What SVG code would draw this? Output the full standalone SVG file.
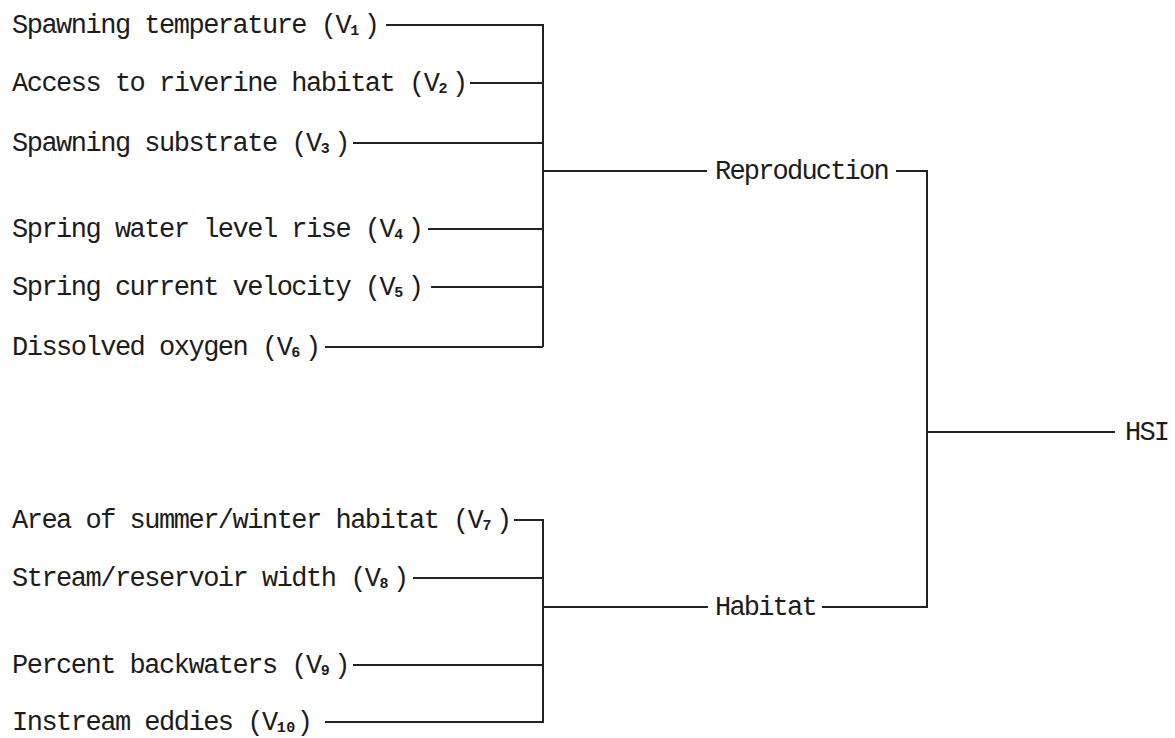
<svg xmlns="http://www.w3.org/2000/svg" width="1175" height="738" viewBox="0 0 1175 738">
<style>
  text { font-family: "Liberation Mono", "DejaVu Sans Mono", monospace; font-size: 27px; fill: #1c1c1c; }
  .in { letter-spacing: -1.5px; }
  .agg { letter-spacing: -1.8px; }
  .sub { font-size: 15px; letter-spacing: 0.5px; font-weight: bold; }
  .conn path { fill: none; stroke: #222; stroke-width: 2; }
</style>
<rect width="1175" height="738" fill="#ffffff"/>
<g class="conn" id="connectors">
  <path d="M386 25H543V347M470 83H543M353 143H543M428 229H543M431 287H543M325 347H543"/>
  <path d="M543 171H707M896 171H927V607H822M708 607H543"/>
  <path d="M514 520H543V722H325M413 578H543M353 665H543"/>
  <path d="M927 432H1115"/>
</g>
<g id="v1"><text class="in" x="12" y="33">Spawning temperature (V<tspan class="sub" dy="2">1</tspan><tspan dy="-2" dx="4">)</tspan></text></g>
<g id="v2"><text class="in" x="12" y="91">Access to riverine habitat (V<tspan class="sub" dy="2">2</tspan><tspan dy="-2" dx="4">)</tspan></text></g>
<g id="v3"><text class="in" x="12" y="151">Spawning substrate (V<tspan class="sub" dy="2">3</tspan><tspan dy="-2" dx="4">)</tspan></text></g>
<g id="v4"><text class="in" x="12" y="237">Spring water level rise (V<tspan class="sub" dy="2">4</tspan><tspan dy="-2" dx="4">)</tspan></text></g>
<g id="v5"><text class="in" x="12" y="295">Spring current velocity (V<tspan class="sub" dy="2">5</tspan><tspan dy="-2" dx="4">)</tspan></text></g>
<g id="v6"><text class="in" x="12" y="355">Dissolved oxygen (V<tspan class="sub" dy="2">6</tspan><tspan dy="-2" dx="4">)</tspan></text></g>
<g id="v7"><text class="in" x="12" y="528">Area of summer/winter habitat (V<tspan class="sub" dy="2">7</tspan><tspan dy="-2" dx="4">)</tspan></text></g>
<g id="v8"><text class="in" x="12" y="586">Stream/reservoir width (V<tspan class="sub" dy="2">8</tspan><tspan dy="-2" dx="4">)</tspan></text></g>
<g id="v9"><text class="in" x="12" y="673">Percent backwaters (V<tspan class="sub" dy="2">9</tspan><tspan dy="-2" dx="4">)</tspan></text></g>
<g id="v10"><text class="in" x="12" y="730">Instream eddies (V<tspan class="sub" dy="2">10</tspan><tspan dy="-2" dx="1">)</tspan></text></g>
<g id="reproduction"><text class="agg" x="715" y="179">Reproduction</text></g>
<g id="habitat"><text class="agg" x="715" y="615">Habitat</text></g>
<g id="hsi"><text class="agg" x="1125" y="440">HSI</text></g>
</svg>
